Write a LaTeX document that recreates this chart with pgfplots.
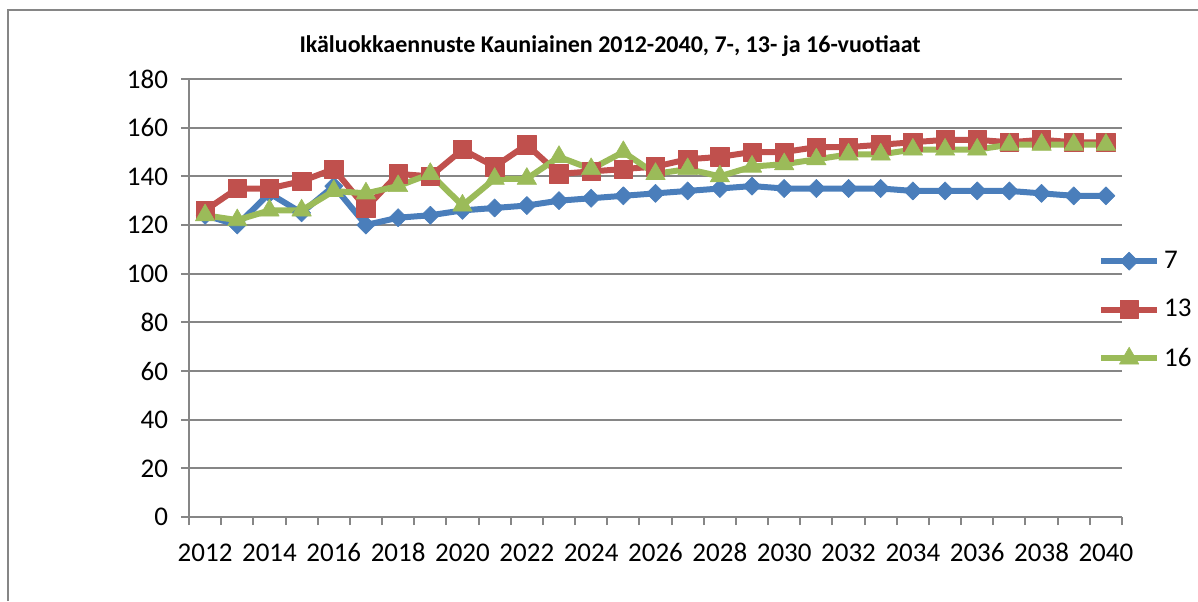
\documentclass[border=0pt]{standalone}
\usepackage{fontspec}
\setmainfont{Carlito}
\usepackage{pgfplots}
\pgfplotsset{compat=1.18}
\definecolor{s7}{RGB}{74,126,187}
\definecolor{s13}{RGB}{192,80,77}
\definecolor{s16}{RGB}{155,187,89}
\definecolor{gridc}{RGB}{134,134,134}

\begin{document}
\begin{tikzpicture}
\useasboundingbox (0,0) rectangle (599pt,300.5pt);
\draw[gridc, line width=0.75pt] (4pt,0pt) -- (4pt,295.5pt) -- (599pt,295.5pt);
\node[font=\fontsize{12}{14}\selectfont\bfseries] at (305pt,277.5pt) {Ikäluokkaennuste Kauniainen 2012-2040, 7-, 13- ja 16-vuotiaat};
\begin{axis}[
  at={(94.5pt,42pt)}, anchor=south west,
  scale only axis, width=466.5pt, height=219pt,
  xmin=-0.5, xmax=28.5, ymin=0, ymax=180,
  axis lines*=left,
  axis line style={gridc, line width=1pt},
  ytick={0,20,...,180},
  xtick={-0.5,0.5,...,28.5},
  xticklabels={},
  extra x ticks={0,2,...,28},
  extra x tick labels={2012,2014,2016,2018,2020,2022,2024,2026,2028,2030,2032,2034,2036,2038,2040},
  extra x tick style={major tick length=0pt, grid=none},
  ymajorgrids=true, xmajorgrids=false,
  grid style={gridc, line width=1pt},
  tick style={gridc, line width=1pt},
  tick align=outside,
  major tick length=4pt,
  ticklabel style={font=\fontsize{13.5}{16}\selectfont},
  /pgf/number format/assume math mode=true,
  /pgf/number format/1000 sep={},
  xticklabel style={anchor=north, text height=9.5pt, text depth=0pt, yshift=-9pt},
  yticklabel style={xshift=-3pt},
  legend style={at={(0.974,0.4726)}, anchor=west, draw=none, fill=none,
    font=\fontsize{13.5}{16}\selectfont, row sep=10pt, inner sep=0pt},
  legend cell align=left,
  legend image code/.code={\draw[#1, mark repeat=2, mark phase=2] plot coordinates {(0pt,0pt) (14pt,0pt) (28pt,0pt)};},
  every axis plot/.append style={line width=3pt, line join=round},
]
\addplot[color=s7, mark=square*, mark size=3.2pt, mark options={rotate=45, solid, fill=s7, line width=0.3pt}] coordinates {
(0,124) (1,120) (2,133) (3,125) (4,136) (5,120) (6,123) (7,124) (8,126) (9,127)
(10,128) (11,130) (12,131) (13,132) (14,133) (15,134) (16,135) (17,136) (18,135) (19,135)
(20,135) (21,135) (22,134) (23,134) (24,134) (25,134) (26,133) (27,132) (28,132)};
\addlegendentry{7}
\addplot[color=s13, mark=square*, mark size=4.6pt, mark options={solid, fill=s13, line width=0.3pt}] coordinates {
(0,126) (1,135) (2,135) (3,138) (4,143) (5,127) (6,141) (7,140) (8,151) (9,144)
(10,153) (11,141) (12,142) (13,143) (14,144) (15,147) (16,148) (17,150) (18,150) (19,152)
(20,152) (21,153) (22,154) (23,155) (24,155) (25,154) (26,155) (27,154) (28,154)};
\addlegendentry{13}
\addplot[color=s16, mark=triangle*, mark size=5.6pt, mark options={solid, fill=s16, line width=0.3pt}] coordinates {
(0,124) (1,122) (2,126) (3,126) (4,134) (5,133) (6,136) (7,141) (8,128) (9,139)
(10,139) (11,148) (12,143) (13,150) (14,141) (15,143) (16,140) (17,144) (18,145) (19,147)
(20,149) (21,149) (22,151) (23,151) (24,151) (25,153) (26,153) (27,153) (28,153)};
\addlegendentry{16}
\end{axis}
\end{tikzpicture}
\end{document}
